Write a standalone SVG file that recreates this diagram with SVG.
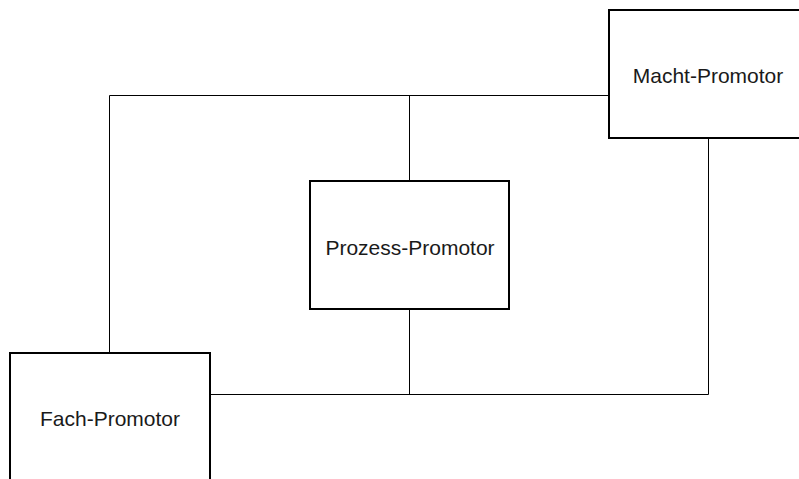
<svg xmlns="http://www.w3.org/2000/svg" width="799" height="479" viewBox="0 0 799 479">
<style>
.box{fill:#fff;stroke:#000;stroke-width:2}
.lbl{font-family:"Liberation Sans",Arial,sans-serif;font-size:21px;fill:#1a1a1a;text-anchor:middle}
.con{fill:none;stroke:#000;stroke-width:1}
</style>
<rect width="799" height="479" fill="#fff"/>
<g id="connectors">
<polyline class="con" points="109.5,353 109.5,95.5 609,95.5"/>
<line class="con" x1="409.5" y1="95.5" x2="409.5" y2="181"/>
<polyline class="con" points="210,394.5 708.5,394.5 708.5,138"/>
<line class="con" x1="409.5" y1="309" x2="409.5" y2="394.5"/>
</g>
<g id="macht">
<rect class="box" x="609" y="10" width="200" height="128"/>
<text class="lbl" x="708" y="83">Macht-Promotor</text>
</g>
<g id="prozess">
<rect class="box" x="310" y="181" width="199" height="128"/>
<text class="lbl" x="410" y="255">Prozess-Promotor</text>
</g>
<g id="fach">
<rect class="box" x="10" y="353" width="200" height="140"/>
<text class="lbl" x="110" y="426">Fach-Promotor</text>
</g>
</svg>
